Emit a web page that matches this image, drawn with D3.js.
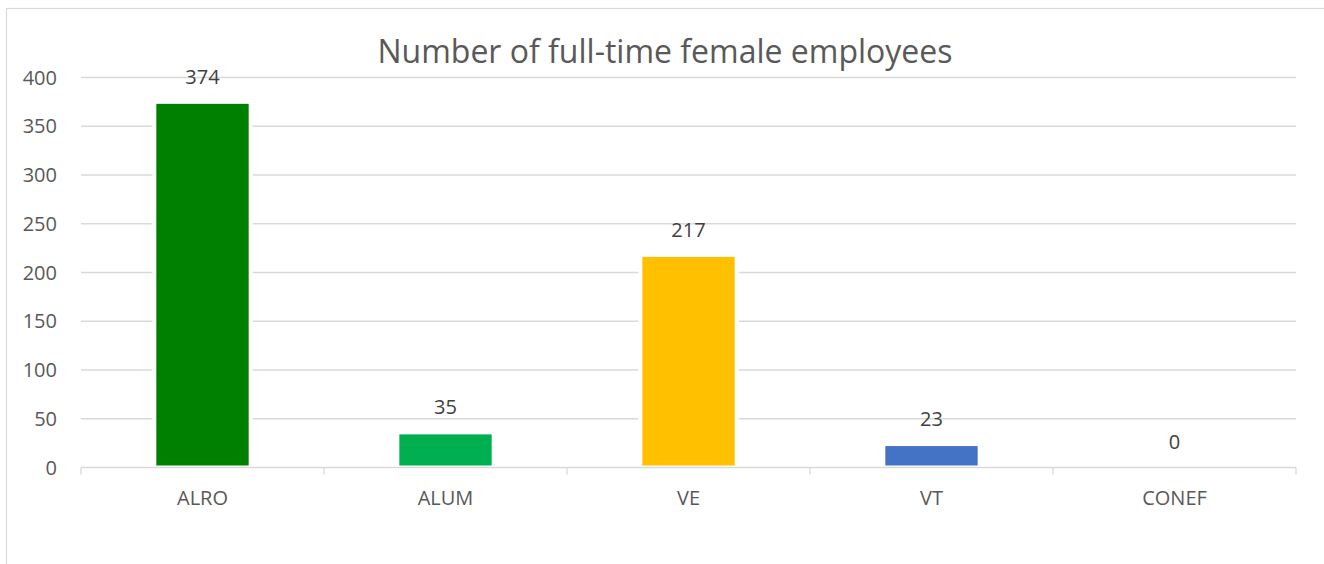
<!DOCTYPE html>
<html>
<head>
<meta charset="utf-8">
<script src="https://cdn.jsdelivr.net/npm/d3@7"></script>
<style>
  body { margin: 0; background: #fff; }
  text { font-family: "Open Sans", "Liberation Sans", sans-serif; }
</style>
</head>
<body>
<div id="chart"></div>
<script>
// chart data
var categories = ["ALRO", "ALUM", "VE", "VT", "CONEF"];
var values = [374, 35, 217, 23, 0];
var colors = ["#008000", "#00b050", "#ffc000", "#4472c4", "#a5a5a5"];
var yTicks = [0, 50, 100, 150, 200, 250, 300, 350, 400];
var title = "Number of full-time female employees";

var W = 1324, H = 564;
var margin = { top: 77.5, right: 28, bottom: 96.5, left: 81 },
    width = W - margin.left - margin.right,
    height = H - margin.top - margin.bottom;

var svg = d3.select("#chart").append("svg")
    .attr("width", W)
    .attr("height", H);

// outer chart frame
svg.append("rect")
    .attr("x", 6.5).attr("y", 8.5)
    .attr("width", W + 10).attr("height", H + 10)
    .attr("fill", "none")
    .attr("stroke", "#d9d9d9")
    .attr("stroke-width", 1.2);

svg.append("text")
    .attr("x", 665)
    .attr("y", 63)
    .attr("text-anchor", "middle")
    .attr("fill", "#595959")
    .style("font-size", "32px")
    .text(title);

var g = svg.append("g")
    .attr("transform", "translate(" + margin.left + "," + margin.top + ")");

var x = d3.scaleBand()
    .domain(categories)
    .range([0, width])
    .paddingInner(0.62)
    .paddingOuter(0.31);

var y = d3.scaleLinear()
    .domain([0, 400])
    .range([height, 0]);

// gridlines
g.selectAll(".grid")
    .data(yTicks.slice(1))
    .enter().append("line")
    .attr("class", "grid")
    .attr("x1", 0).attr("x2", width)
    .attr("y1", function(d) { return y(d); })
    .attr("y2", function(d) { return y(d); })
    .attr("stroke", "#d9d9d9")
    .attr("stroke-width", 1.3);

// y labels
g.selectAll(".ylab")
    .data(yTicks)
    .enter().append("text")
    .attr("class", "ylab")
    .attr("x", -24)
    .attr("y", function(d) { return y(d); })
    .attr("dy", "0.36em")
    .attr("text-anchor", "end")
    .attr("fill", "#595959")
    .style("font-size", "20px")
    .text(function(d) { return d; });

// bars with white outline
var bars = g.selectAll(".bar")
    .data(values)
    .enter();

bars.append("rect")
    .attr("x", function(d, i) { return x(categories[i]) - 4; })
    .attr("width", x.bandwidth() + 8)
    .attr("y", function(d) { return y(d) - 4; })
    .attr("height", function(d) { return d > 0 ? height - y(d) + 4 : 0; })
    .attr("fill", "#fff");

bars.append("rect")
    .attr("class", "bar")
    .attr("x", function(d, i) { return x(categories[i]); })
    .attr("width", x.bandwidth())
    .attr("y", function(d) { return y(d) + 1; })
    .attr("height", function(d) { return Math.max(0, height - y(d) - 3); })
    .attr("fill", function(d, i) { return colors[i]; });

// x axis
var xAxis = g.append("g")
    .attr("transform", "translate(0," + height + ")");
xAxis.append("line")
    .attr("x1", 0).attr("x2", width)
    .attr("stroke", "#d9d9d9").attr("stroke-width", 1.3);
xAxis.selectAll(".tick")
    .data(d3.range(categories.length + 1))
    .enter().append("line")
    .attr("x1", function(i) { return i * width / categories.length; })
    .attr("x2", function(i) { return i * width / categories.length; })
    .attr("y1", 0).attr("y2", 7)
    .attr("stroke", "#d9d9d9").attr("stroke-width", 1.3);
xAxis.selectAll(".xlab")
    .data(categories)
    .enter().append("text")
    .attr("x", function(d) { return x(d) + x.bandwidth() / 2; })
    .attr("y", 37)
    .attr("text-anchor", "middle")
    .attr("fill", "#595959")
    .style("font-size", "20px")
    .text(function(d) { return d; });

// data labels
g.selectAll(".vlab")
    .data(values)
    .enter().append("text")
    .attr("class", "vlab")
    .attr("x", function(d, i) { return x(categories[i]) + x.bandwidth() / 2; })
    .attr("y", function(d) { return y(d) - 19; })
    .attr("text-anchor", "middle")
    .attr("fill", "#404040")
    .style("font-size", "20px")
    .text(function(d) { return d; });
</script>
</body>
</html>
